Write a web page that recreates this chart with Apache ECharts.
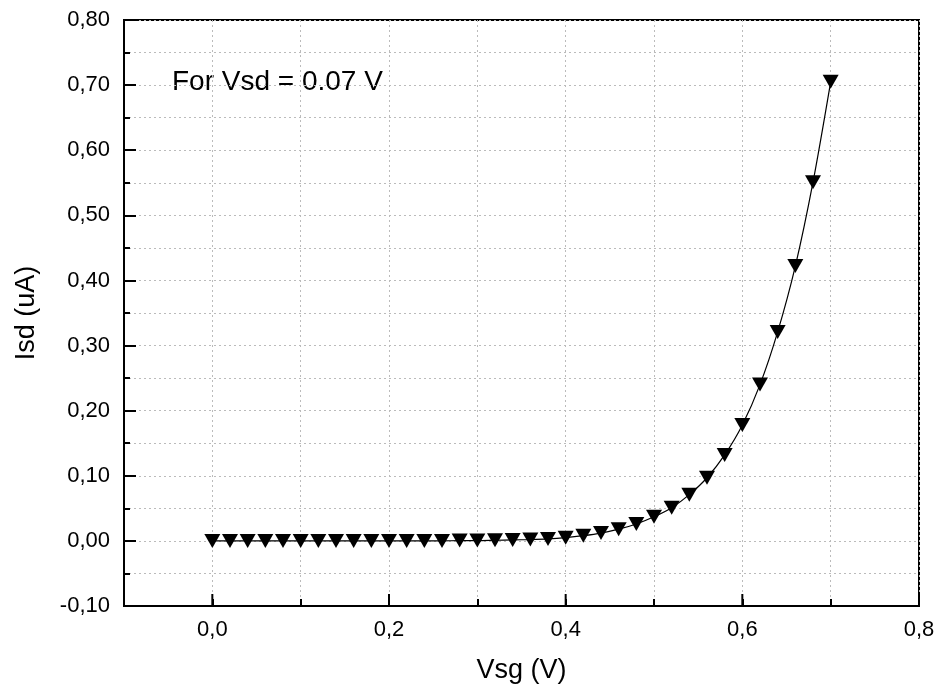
<!DOCTYPE html>
<html><head><meta charset="utf-8">
<script src="https://cdn.jsdelivr.net/npm/echarts@6/dist/echarts.min.js"></script>
<style>html,body{margin:0;padding:0;background:#fff}#c{width:941px;height:695px}</style>
</head><body><div id="c"></div>
<script>
const vsg = [0.00,0.02,0.04,0.06,0.08,0.10,0.12,0.14,0.16,0.18,0.20,0.22,0.24,0.26,0.28,0.30,0.32,0.34,0.36,0.38,0.40,0.42,0.44,0.46,0.48,0.50,0.52,0.54,0.56,0.58,0.60,0.62,0.64,0.66,0.68,0.70];
const isd = [0,0,0,0,0,0,0,0,0,0,0,0,0,0,0.0005,0.0005,0.001,0.0015,0.002,0.003,0.005,0.008,0.012,0.018,0.026,0.037,0.051,0.071,0.097,0.132,0.178,0.240,0.321,0.422,0.551,0.705];
const xMajorTicks = [0.0, 0.2, 0.4, 0.6, 0.8];
const annotation = 'For Vsd = 0.07 V';
const xName = 'Vsg (V)';
const yName = 'Isd (uA)';

const font = 'Liberation Sans, Arial, sans-serif';
const dotted = {color: '#bbb', type: [2, 3], width: 1};
const chart = echarts.init(document.getElementById('c'));
chart.setOption({
  animation: false,
  grid: {left: 124, right: 22, top: 20, bottom: 89, containLabel: false, outerBoundsMode: 'none',
    show: true, borderColor: '#000', borderWidth: 2, backgroundColor: 'transparent'},
  xAxis: {
    type: 'value', min: -0.1, max: 0.8, interval: 0.1,
    name: xName, nameLocation: 'middle', nameGap: 51,
    nameTextStyle: {fontSize: 27, fontFamily: font, color: '#000'},
    axisLine: {show: true, onZero: false, lineStyle: {color: '#000', width: 2}},
    axisTick: {show: true, inside: true, length: 7, lineStyle: {color: '#000', width: 2}},
    axisLabel: {fontSize: 22, fontFamily: font, color: '#000', margin: 13,
      formatter: v => { const k = Math.round(v * 10); return (k >= 0 && k % 2 === 0) ? (k / 10).toFixed(1).replace('.', ',') : ''; }},
    splitLine: {show: true, lineStyle: dotted}
  },
  yAxis: {
    type: 'value', min: -0.1, max: 0.8, interval: 0.1,
    name: yName, nameLocation: 'middle', nameGap: 84, nameRotate: 90,
    nameTextStyle: {fontSize: 27, fontFamily: font, color: '#000'},
    axisLine: {show: true, onZero: false, lineStyle: {color: '#000', width: 2}},
    axisTick: {show: true, inside: true, length: 12, lineStyle: {color: '#000', width: 2}},
    minorTick: {show: true, splitNumber: 2, length: 6, lineStyle: {color: '#000', width: 2}},
    axisLabel: {fontSize: 22, fontFamily: font, color: '#000', margin: 14,
      formatter: v => v.toFixed(2).replace('.', ',')},
    splitLine: {show: true, lineStyle: dotted},
    minorSplitLine: {show: true, lineStyle: dotted}
  },
  graphic: [{type: 'text', left: 172, top: 68, style: {text: annotation, fontSize: 28, fontFamily: font, fill: '#000'}}],
  series: [{
    type: 'line', data: vsg.map((x, i) => [x, isd[i]]), smooth: 0.3,
    symbol: 'triangle', symbolRotate: 180, symbolSize: [16, 14],
    itemStyle: {color: '#000'}, lineStyle: {color: '#000', width: 1.2}, z: 3
  }, {
    type: 'custom', silent: true, clip: false, z: 4,
    data: xMajorTicks.map(x => [x, -0.1]),
    renderItem: (params, api) => {
      const p = api.coord([api.value(0), api.value(1)]);
      return {type: 'line', shape: {x1: p[0], y1: p[1], x2: p[0], y2: p[1] - 12},
        style: {stroke: '#000', lineWidth: 2}};
    }
  }]
});
</script></body></html>
